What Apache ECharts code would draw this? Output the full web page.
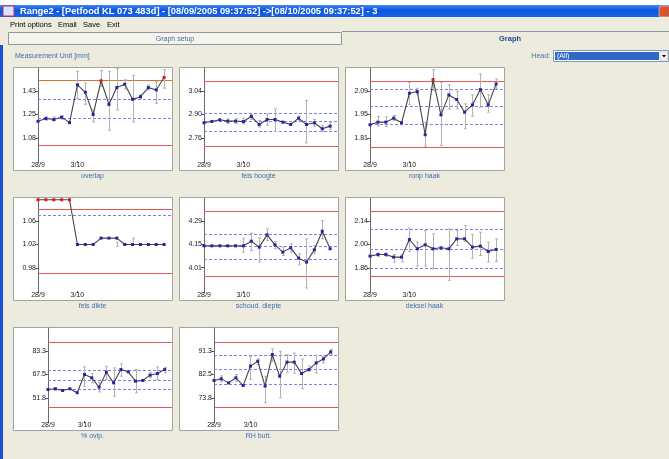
<!DOCTYPE html>
<html><head><meta charset="utf-8">
<script src="https://cdn.jsdelivr.net/npm/echarts@6/dist/echarts.min.js"></script>
<style>html,body{margin:0;padding:0;background:#ECE9D8;}#c{width:669px;height:459px;}</style>
</head><body><div id="c"></div>
<script>
// ---------- data ----------
const dates = ['28/9','29/9','30/9','1/10','2/10','3/10','4/10','5/10','6/10','7/10','8/10','9/10','10/10','11/10','12/10','13/10','14/10','15/10'];
const shownDates = ['28/9','3/10'];
const chartNames = ['overlap','fels hoogte','ronp haak','fels dikte','schoud. diepte','deksel haak','% ovlp.','RH butt.'];

const overlapMean = [1.204,1.225,1.217,1.235,1.194,1.478,1.422,1.255,1.509,1.331,1.458,1.483,1.369,1.389,1.458,1.440,1.534];
const overlapHigh = [null,1.237,1.237,1.245,null,1.580,1.491,1.288,1.585,1.580,1.600,1.516,1.549,1.402,1.478,1.504,1.592];
const overlapLow  = [null,1.212,1.207,1.219,null,1.377,1.331,1.199,1.465,1.136,1.288,1.448,1.199,1.372,1.440,1.339,1.453];
const overlapTicks = [1.08,1.255,1.43];
const overlapTickLabels = ['1.08','1.25','1.43'];
const overlapLimits = [1.507,1.017];
const overlapGuides = [1.369,1.225];

const felsHoogteMean = [2.85,2.858,2.868,2.86,2.86,2.858,2.888,2.84,2.87,2.87,2.854,2.84,2.878,2.84,2.85,2.814,2.83];
const felsHoogteHigh = [null,null,null,2.874,2.874,2.878,2.90,2.864,2.904,2.934,null,null,2.89,2.984,2.87,2.834,2.854];
const felsHoogteLow  = [null,null,null,2.846,2.846,2.844,2.87,2.824,2.834,2.798,null,null,2.864,2.73,2.83,2.798,2.81];
const felsHoogteTicks = [2.76,2.90,3.04];
const felsHoogteTickLabels = ['2.76','2.90','3.04'];
const felsHoogteLimits = [3.098,2.71];
const felsHoogteGuides = [2.91,2.86,2.80];

const rompHaakMean = [1.888,1.904,1.904,1.928,1.90,2.078,2.088,1.828,2.16,1.948,2.068,2.04,1.964,2.008,2.10,2.008,2.134];
const rompHaakHigh = [null,1.938,1.936,1.944,null,2.144,2.108,1.904,2.22,2.144,2.128,2.09,2.014,2.068,2.194,2.068,2.164];
const rompHaakLow  = [null,1.88,1.878,1.914,null,2.008,2.074,1.76,2.094,1.764,1.984,1.984,1.864,1.94,1.994,1.964,2.104];
const rompHaakTicks = [1.81,1.95,2.09];
const rompHaakTickLabels = ['1.81','1.95','2.09'];
const rompHaakLimits = [2.148,1.754];
const rompHaakGuides = [2.104,2.0,1.89];

const felsDikteMean = [1.097,1.097,1.097,1.097,1.097,1.02,1.02,1.02,1.031,1.031,1.031,1.02,1.02,1.02,1.02,1.02,1.02];
const felsDikteHigh = [null,null,null,null,null,null,null,null,null,null,1.024,null,1.031,null,null,null,null];
const felsDikteLow  = [null,null,null,null,null,null,null,null,null,null,1.017,null,1.02,null,null,null,null];
const felsDikteTicks = [0.98,1.02,1.06];
const felsDikteTickLabels = ['0.98','1.02','1.06'];
const felsDikteLimits = [1.077,0.966];
const felsDikteGuides = [1.068];

const schoudDiepteMean = [4.142,4.142,4.142,4.142,4.142,4.142,4.17,4.134,4.208,4.148,4.104,4.13,4.068,4.044,4.118,4.23,4.124];
const schoudDiepteHigh = [null,null,null,null,null,4.188,4.218,4.19,4.244,4.168,4.134,4.154,4.094,4.184,4.144,4.294,null];
const schoudDiepteLow  = [null,null,null,null,null,4.104,4.114,4.044,4.174,4.124,4.084,4.104,4.028,3.888,4.094,4.184,null];
const schoudDiepteTicks = [4.01,4.15,4.29];
const schoudDiepteTickLabels = ['4.01','4.15','4.29'];
const schoudDiepteLimits = [4.35,3.96];
const schoudDiepteGuides = [4.21,4.142,4.064];

const dekselHaakMean = [1.93,1.94,1.94,1.924,1.924,2.03,1.974,1.998,1.974,1.98,1.974,2.034,2.034,1.984,1.99,1.958,1.97];
const dekselHaakHigh = [null,1.948,1.948,1.94,1.94,2.098,2.014,2.084,2.064,null,2.094,2.084,2.114,2.06,2.074,2.014,2.034];
const dekselHaakLow  = [null,1.928,1.928,1.894,1.894,1.958,1.87,1.87,1.854,null,1.784,1.994,2.018,1.918,1.934,1.894,1.898];
const dekselHaakTicks = [1.86,2.00,2.14];
const dekselHaakTickLabels = ['1.86','2.00','2.14'];
const dekselHaakLimits = [2.20,1.808];
const dekselHaakGuides = [2.094,1.974,1.864];

const ovlpMean = [57.4,57.9,56.75,57.9,55.2,67.55,65.3,59.0,69.1,61.9,70.9,69.35,63.05,63.5,67.1,68.2,70.9];
const ovlpHigh = [null,58.7,null,null,null,72.7,68.2,62.0,73.1,72.0,74.7,null,70.9,null,68.7,72.7,72.4];
const ovlpLow  = [null,57.0,null,null,null,59.7,61.9,55.7,64.1,52.9,66.4,null,55.2,null,65.3,64.1,68.8];
const ovlpTicks = [51.8,67.55,83.3];
const ovlpTickLabels = ['51.8','67.5','83.3'];
const ovlpLimits = [89.6,45.7];
const ovlpGuides = [70.25,63.7,57.4];

const rhButtMean = [80.3,80.9,79.4,81.3,78.4,85.7,87.55,78.2,90.05,81.9,87.2,87.2,82.9,84.4,86.9,88.4,91.05];
const rhButtHigh = [null,82.0,null,82.5,null,89.4,88.4,81.9,92.2,91.3,90.05,90.6,88.4,85.7,89.8,89.4,91.9];
const rhButtLow  = [null,79.8,null,80.0,null,80.7,86.3,71.9,87.55,73.8,83.4,83.1,77.2,83.8,83.1,86.9,90.0];
const rhButtTicks = [73.8,82.55,91.3];
const rhButtTickLabels = ['73.8','82.5','91.3'];
const rhButtLimits = [94.8,70.4];
const rhButtGuides = [89.8,84.4,78.8];

const charts = [
  {mean:overlapMean, high:overlapHigh, low:overlapLow, ticks:overlapTicks, labels:overlapTickLabels, limits:overlapLimits, guides:overlapGuides},
  {mean:felsHoogteMean, high:felsHoogteHigh, low:felsHoogteLow, ticks:felsHoogteTicks, labels:felsHoogteTickLabels, limits:felsHoogteLimits, guides:felsHoogteGuides},
  {mean:rompHaakMean, high:rompHaakHigh, low:rompHaakLow, ticks:rompHaakTicks, labels:rompHaakTickLabels, limits:rompHaakLimits, guides:rompHaakGuides},
  {mean:felsDikteMean, high:felsDikteHigh, low:felsDikteLow, ticks:felsDikteTicks, labels:felsDikteTickLabels, limits:felsDikteLimits, guides:felsDikteGuides},
  {mean:schoudDiepteMean, high:schoudDiepteHigh, low:schoudDiepteLow, ticks:schoudDiepteTicks, labels:schoudDiepteTickLabels, limits:schoudDiepteLimits, guides:schoudDiepteGuides},
  {mean:dekselHaakMean, high:dekselHaakHigh, low:dekselHaakLow, ticks:dekselHaakTicks, labels:dekselHaakTickLabels, limits:dekselHaakLimits, guides:dekselHaakGuides},
  {mean:ovlpMean, high:ovlpHigh, low:ovlpLow, ticks:ovlpTicks, labels:ovlpTickLabels, limits:ovlpLimits, guides:ovlpGuides},
  {mean:rhButtMean, high:rhButtHigh, low:rhButtLow, ticks:rhButtTicks, labels:rhButtTickLabels, limits:rhButtLimits, guides:rhButtGuides}
];

// ---------- layout ----------
const FONT = '"Liberation Sans", Arial, sans-serif';
const colLeft = [13, 179, 345], rowTop = [67, 197, 327];
const boxW = 159, boxH = 103;

const grids = [], xAxes = [], yAxes = [], series = [], graphics = [];

function renderErr(params, api) {
  const i = api.value(0);
  const top = api.coord([i, api.value(2)]);
  const bot = api.coord([i, api.value(1)]);
  const x = Math.round(top[0]) + 0.5;
  const st = {stroke:'#b2b2b2', lineWidth:1};
  return {type:'group', children:[
    {type:'line', shape:{x1:x, y1:top[1], x2:x, y2:bot[1]}, style:st},
    {type:'line', shape:{x1:x-1.5, y1:top[1], x2:x+1.5, y2:top[1]}, style:st},
    {type:'line', shape:{x1:x-1.5, y1:bot[1], x2:x+1.5, y2:bot[1]}, style:st}
  ]};
}

// window chrome
graphics.push({type:'rect', z:-20, shape:{x:0,y:0,width:669,height:459}, style:{fill:'#EDEBDE'}});
graphics.push({type:'rect', z:-19, shape:{x:0,y:0,width:669,height:5}, style:{fill:'#ffffff'}});
graphics.push({type:'rect', z:-19, shape:{x:0,y:5,width:669,height:12}, style:{fill:{type:'linear',x:0,y:0,x2:0,y2:1,colorStops:[{offset:0,color:'#3d84f7'},{offset:0.45,color:'#0b55dc'},{offset:1,color:'#1c62e8'}]}}});
graphics.push({type:'rect', z:-18, shape:{x:3,y:6,width:11,height:10}, style:{fill:'#d8e4ff', stroke:'#c03060', lineWidth:1}});
graphics.push({type:'text', z:-18, style:{text:'Range2 - [Petfood KL 073 483d] - [08/09/2005 09:37:52] ->[08/10/2005 09:37:52] - 3', x:20, y:11.5, fill:'#ffffff', font:'bold 9.3px '+FONT, verticalAlign:'middle'}});
graphics.push({type:'rect', z:-18, shape:{x:659,y:6,width:12,height:11,r:2}, style:{fill:'#d9542d', stroke:'#ffffff', lineWidth:0.5}});
graphics.push({type:'rect', z:-19, shape:{x:0,y:45,width:3,height:414}, style:{fill:'#1a4fd6'}});
// menu
[['Print options',10],['Email',58],['Save',83],['Exit',107]].forEach(m => {
  graphics.push({type:'text', z:-18, style:{text:m[0], x:m[1], y:25, fill:'#000', font:'7.5px '+FONT, verticalAlign:'middle'}});
});
// tabs
graphics.push({type:'rect', z:-18, shape:{x:8.5,y:32.5,width:333,height:12}, style:{fill:'#F4F3EC', stroke:'#8f9aa0', lineWidth:1}});
graphics.push({type:'text', z:-17, style:{text:'Graph setup', x:175, y:39, fill:'#4a6fa5', font:'7px '+FONT, align:'center', verticalAlign:'middle'}});
graphics.push({type:'line', z:-18, shape:{x1:342,y1:31.5,x2:669,y2:31.5}, style:{stroke:'#8f9aa0', lineWidth:1}});
graphics.push({type:'text', z:-17, style:{text:'Graph', x:510, y:39, fill:'#1f4a8f', font:'bold 7.5px '+FONT, align:'center', verticalAlign:'middle'}});
graphics.push({type:'text', z:-17, style:{text:'Measurement Unit [mm]', x:15, y:56, fill:'#3d6bb3', font:'7px '+FONT, verticalAlign:'middle'}});
graphics.push({type:'text', z:-17, style:{text:'Head:', x:550, y:56, fill:'#4a6fa5', font:'7px '+FONT, align:'right', verticalAlign:'middle'}});
graphics.push({type:'rect', z:-18, shape:{x:553.5,y:50.5,width:115,height:11}, style:{fill:'#ffffff', stroke:'#7f9db9', lineWidth:1}});
graphics.push({type:'rect', z:-17, shape:{x:555,y:52,width:104,height:8}, style:{fill:'#316AC5'}});
graphics.push({type:'text', z:-16, style:{text:'(All)', x:557, y:56, fill:'#ffffff', font:'7px '+FONT, verticalAlign:'middle'}});
graphics.push({type:'rect', z:-17, shape:{x:660,y:52,width:8,height:8}, style:{fill:'#f2f2f2', stroke:'#b0b0b0', lineWidth:0.5}});
graphics.push({type:'polygon', z:-16, shape:{points:[[662,55],[666,55],[664,57.5]]}, style:{fill:'#000'}});

charts.forEach((c, k) => {
  const row = Math.floor(k / 3), col = k % 3;
  const bx = colLeft[col], by = rowTop[row];
  const off = row === 2 ? 35 : 25;
  const d = c.ticks[1] - c.ticks[0];
  const ymin = c.ticks[0] - d, ymax = c.ticks[2] + d;

  graphics.push({type:'rect', z:-15, shape:{x:bx+0.5,y:by+0.5,width:boxW,height:boxH}, style:{fill:'#ffffff', stroke:'#a3a3a3', lineWidth:1}});
  graphics.push({type:'text', z:-14, style:{text:chartNames[k], x:bx+boxW/2, y:by+109, fill:'#3d6bb3', font:'7px '+FONT, align:'center', verticalAlign:'middle'}});

  grids.push({left:bx+off, top:by+1, width:boxW-off, height:93, containLabel:false});
  xAxes.push({
    type:'category', gridIndex:k, data:dates, boundaryGap:false,
    axisLine:{show:false},
    axisTick:{show:true, length:2, interval:(i,v)=>shownDates.includes(v), lineStyle:{color:'#555'}},
    axisLabel:{interval:(i,v)=>shownDates.includes(v), fontSize:7, fontFamily:FONT, color:'#222', margin:1},
    splitLine:{show:false}
  });
  const ticks = c.ticks, labels = c.labels;
  yAxes.push({
    type:'value', gridIndex:k, min:ymin, max:ymax,
    axisLine:{show:true, lineStyle:{color:'#6a6a6a', width:1}},
    axisTick:{show:true, length:3, customValues:ticks, lineStyle:{color:'#555'}},
    axisLabel:{customValues:ticks, fontSize:7, fontFamily:FONT, color:'#222', margin:2,
      formatter:v => { const j = ticks.findIndex(t => Math.abs(t - v) < 1e-9); return j >= 0 ? labels[j] : ''; }},
    splitLine:{show:false}
  });

  const errData = [];
  c.mean.forEach((m, i) => { if (c.low[i] != null && c.high[i] != null) errData.push([i, c.low[i], c.high[i]]); });
  series.push({type:'custom', xAxisIndex:k, yAxisIndex:k, renderItem:renderErr, data:errData, z:2, clip:true, silent:true});

  const usl = c.limits[0], lsl = c.limits[1];
  const ml = [
    {yAxis:usl, lineStyle:{color: k === 0 ? '#cf7a2a' : '#e05858', type:'solid', width:1}},
    {yAxis:lsl, lineStyle:{color:'#e05858', type:'solid', width:1}}
  ];
  c.guides.forEach(g => ml.push({yAxis:g, lineStyle:{color:'#7f7fe8', type:[3,2], width:1}}));

  series.push({
    type:'line', xAxisIndex:k, yAxisIndex:k, z:3,
    data:c.mean.map(v => ({value:v, itemStyle:{color:(v > usl || v < lsl) ? '#e01818' : '#2323b0'}})),
    symbol:'rect', symbolSize:3, showSymbol:true,
    lineStyle:{color:'#444444', width:1.1},
    markLine:{silent:true, symbol:'none', label:{show:false}, z:1, data:ml, animation:false}
  });
});

const chart = echarts.init(document.getElementById('c'), null, {renderer:'canvas'});
chart.setOption({
  animation:false,
  textStyle:{fontFamily:FONT},
  graphic:{elements:graphics},
  grid:grids, xAxis:xAxes, yAxis:yAxes, series:series
});
</script></body></html>
